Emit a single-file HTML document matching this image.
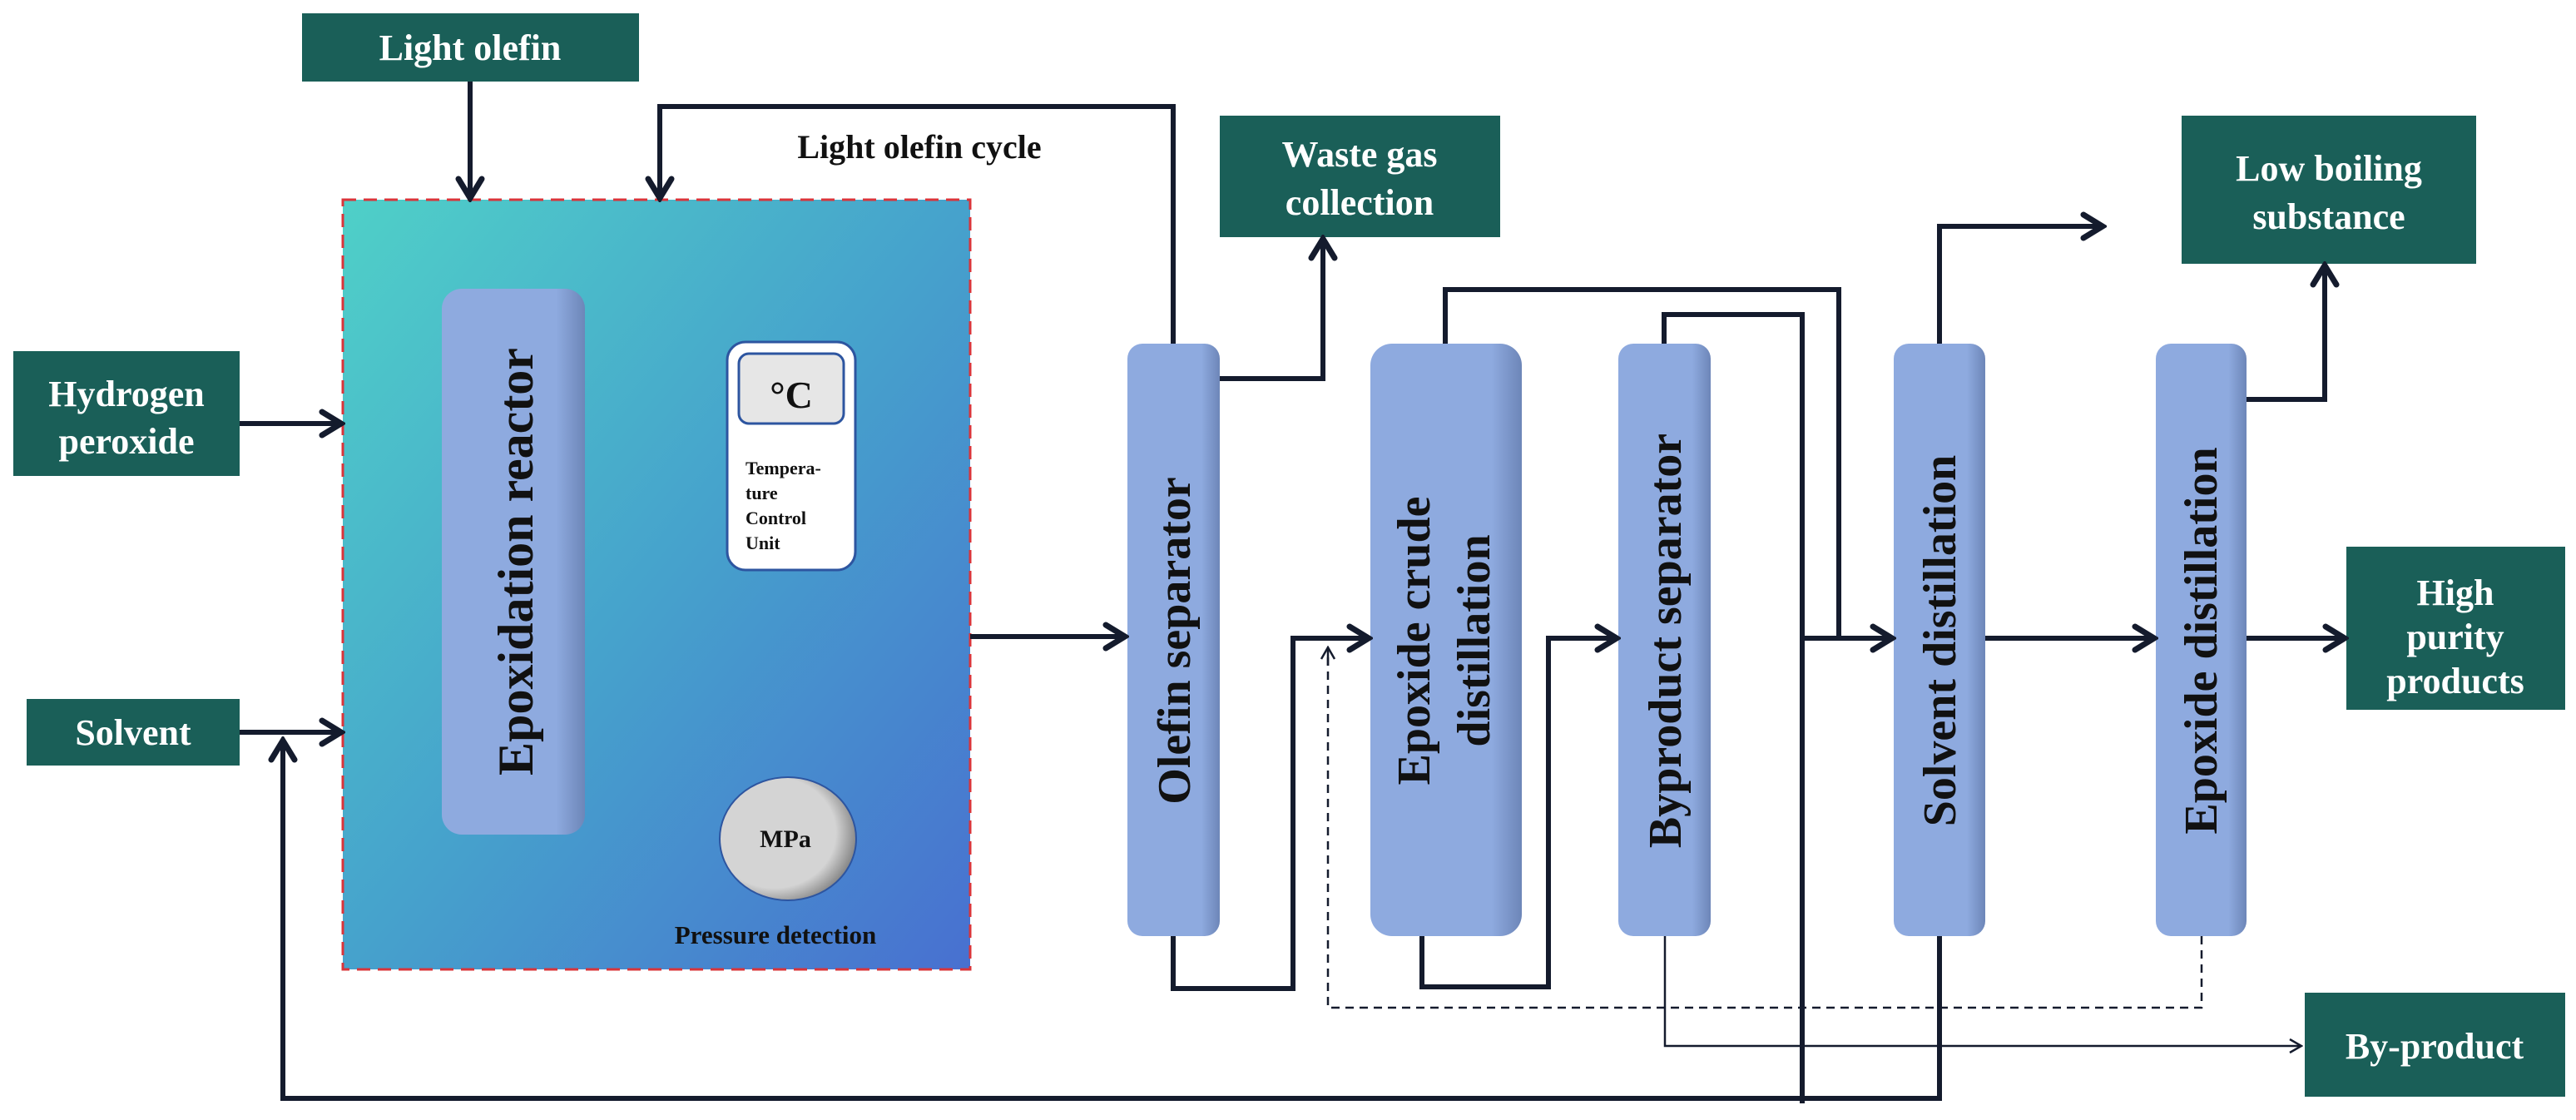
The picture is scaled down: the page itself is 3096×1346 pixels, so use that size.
<!DOCTYPE html>
<html><head><meta charset="utf-8"><style>
html,body{margin:0;padding:0;background:#fff;}
svg{display:block;}
text{font-family:"Liberation Serif",serif;font-weight:bold;}
</style></head><body>
<svg width="3096" height="1346" viewBox="0 0 3096 1346" xmlns="http://www.w3.org/2000/svg">
<defs>
<linearGradient id="rg" x1="0" y1="0" x2="1" y2="1">
<stop offset="0" stop-color="#4fd0c8"/><stop offset="0.5" stop-color="#46a2cc"/><stop offset="1" stop-color="#4870d0"/>
</linearGradient>
<linearGradient id="col" x1="0" y1="0" x2="1" y2="0">
<stop offset="0" stop-color="#8eaadf"/><stop offset="0.8" stop-color="#8eaadf"/><stop offset="1" stop-color="#6d86b8"/>
</linearGradient>
<radialGradient id="cir" cx="0.4" cy="0.45" r="0.6">
<stop offset="0.75" stop-color="#d4d4d4"/><stop offset="1" stop-color="#8a8a8a"/>
</radialGradient>
<marker id="a" viewBox="0 0 40 40" refX="35" refY="20" markerWidth="40" markerHeight="40" markerUnits="userSpaceOnUse" orient="auto">
<polyline points="12,6 35,20 12,34" fill="none" stroke="#141b2d" stroke-width="7" stroke-linecap="round" stroke-linejoin="miter"/>
</marker>
<marker id="t" viewBox="0 0 20 20" refX="18" refY="10" markerWidth="20" markerHeight="20" markerUnits="userSpaceOnUse" orient="auto">
<polyline points="4,2 18,10 4,18" fill="none" stroke="#141b2d" stroke-width="2.5"/>
</marker>
</defs>

<g fill="#1a5f58">
<rect x="363" y="16" width="405" height="82"/>
<rect x="16" y="422" width="272" height="150"/>
<rect x="32" y="840" width="256" height="80"/>
<rect x="1466" y="139" width="337" height="146"/>
<rect x="2622" y="139" width="354" height="178"/>
<rect x="2820" y="657" width="263" height="196"/>
<rect x="2770" y="1193" width="313" height="125"/>
</g>
<g fill="#fff" font-size="44" text-anchor="middle">
<text x="565" y="72">Light olefin</text>
<text x="152" y="488">Hydrogen</text><text x="152" y="545">peroxide</text>
<text x="160" y="895">Solvent</text>
<text x="1634" y="200">Waste gas</text><text x="1634" y="258">collection</text>
<text x="2799" y="217">Low boiling</text><text x="2799" y="275">substance</text>
<text x="2951" y="727">High</text><text x="2951" y="780">purity</text><text x="2951" y="833">products</text>
<text x="2926" y="1272">By-product</text>
</g>

<rect x="412" y="240" width="754" height="925" fill="url(#rg)" stroke="#d9343a" stroke-width="3" stroke-dasharray="16,9"/>
<rect x="531" y="347" width="172" height="656" rx="24" fill="url(#col)"/>
<text font-size="60" text-anchor="middle" fill="#111" transform="translate(640,675) rotate(-90)">Epoxidation reactor</text>
<rect x="874" y="411" width="154" height="274" rx="22" fill="#fff" stroke="#2d55a0" stroke-width="3"/>
<rect x="888" y="425" width="126" height="84" rx="12" fill="#e6e6e6" stroke="#2d55a0" stroke-width="3"/>
<text x="951" y="490" font-size="46" text-anchor="middle" fill="#111">°C</text>
<g font-size="22" fill="#111"><text x="896" y="570">Tempera-</text><text x="896" y="600">ture</text><text x="896" y="630">Control</text><text x="896" y="660">Unit</text></g>
<ellipse cx="947" cy="1008" rx="82" ry="74" fill="url(#cir)" stroke="#2d55a0" stroke-width="2"/>
<text x="944" y="1018" font-size="30" text-anchor="middle" fill="#111">MPa</text>
<text x="932" y="1134" font-size="31" text-anchor="middle" fill="#111">Pressure detection</text>
<text x="1105" y="190" font-size="40" text-anchor="middle" fill="#111">Light olefin cycle</text>

<g fill="url(#col)">
<rect x="1355" y="413" width="111" height="712" rx="18"/>
<rect x="1647" y="413" width="182" height="712" rx="26"/>
<rect x="1945" y="413" width="111" height="712" rx="18"/>
<rect x="2276" y="413" width="110" height="712" rx="18"/>
<rect x="2591" y="413" width="109" height="712" rx="18"/>
</g>
<g font-size="56" text-anchor="middle" fill="#111">
<text transform="translate(1430,770) rotate(-90)">Olefin separator</text>
<text transform="translate(1718,770) rotate(-90)">Epoxide crude</text>
<text transform="translate(1790,770) rotate(-90)">distillation</text>
<text transform="translate(2020,770) rotate(-90)">Byproduct separator</text>
<text transform="translate(2350,770) rotate(-90)">Solvent distillation</text>
<text transform="translate(2664,770) rotate(-90)">Epoxide distillation</text>
</g>

<g fill="none" stroke="#141b2d" stroke-width="6" stroke-linejoin="miter">
<path d="M565 98 V238" marker-end="url(#a)"/>
<path d="M1410 413 V128 H793 V238" marker-end="url(#a)"/>
<path d="M288 509 H410" marker-end="url(#a)"/>
<path d="M288 880 H410" marker-end="url(#a)"/>
<path d="M1166 765 H1352" marker-end="url(#a)"/>
<path d="M1466 455 H1590 V287" marker-end="url(#a)"/>
<path d="M1410 1125 V1188 H1554 V767 H1645" marker-end="url(#a)"/>
<path d="M1709 1125 V1186 H1861 V767 H1943" marker-end="url(#a)"/>
<path d="M1737 413 V348 H2210 V767"/>
<path d="M2000 413 V378 H2166 V1326"/>
<path d="M2166 767 H2274" marker-end="url(#a)"/>
<path d="M2331 413 V272 H2527" marker-end="url(#a)"/>
<path d="M2386 767 H2589" marker-end="url(#a)"/>
<path d="M2700 767 H2818" marker-end="url(#a)"/>
<path d="M2700 480 H2794 V319" marker-end="url(#a)"/>
<path d="M2331 1125 V1320 H340 V890" marker-end="url(#a)"/>
</g>
<path d="M2646 1125 V1211 H1596 V785" fill="none" stroke="#141b2d" stroke-width="2.5" stroke-dasharray="10,7"/>
<path d="M1596 800 V778" fill="none" stroke="#141b2d" stroke-width="2.5" marker-end="url(#t)"/>
<path d="M2001 1125 V1257 H2766" fill="none" stroke="#141b2d" stroke-width="2.5" marker-end="url(#t)"/>
</svg>
</body></html>
